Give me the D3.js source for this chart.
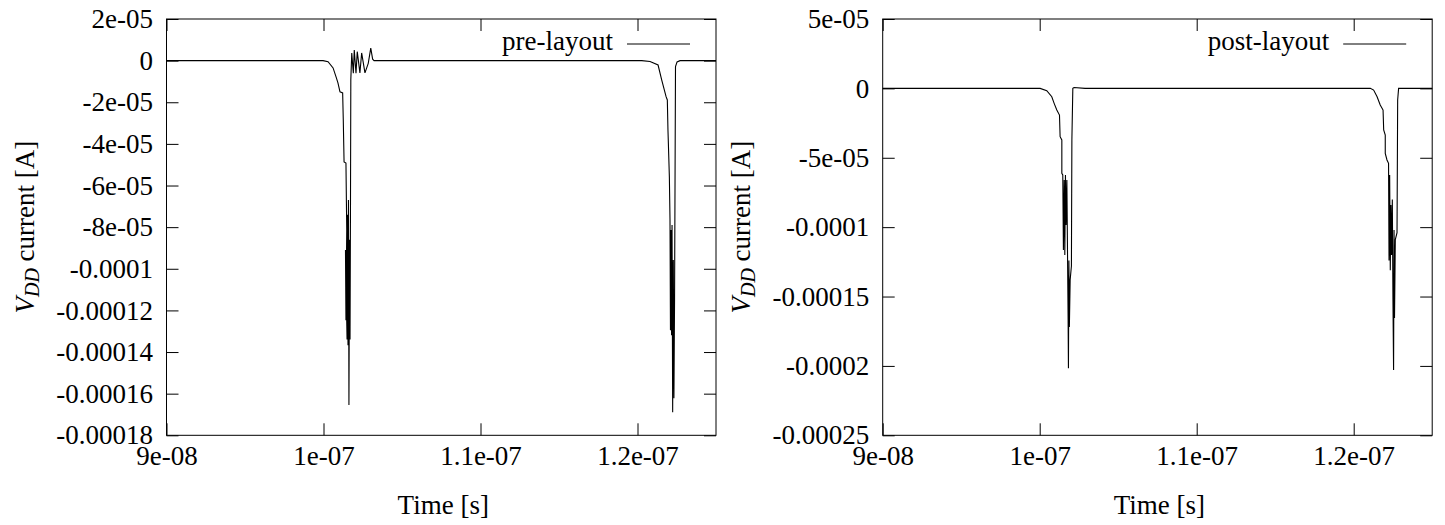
<!DOCTYPE html>
<html>
<head>
<meta charset="utf-8">
<script src="https://cdn.jsdelivr.net/npm/d3@7"></script>
<style>
  body { margin: 0; background: #fff; }
  text { font-family: "Liberation Serif", serif; font-size: 27px; fill: #000; }
</style>
</head>
<body>
<div id="container"></div>
<script>
/* DATA (time in ns, current in uA) */
const preTimeNs = [90, 99.97, 100.29, 100.61, 100.80, 100.92, 101.05, 101.22, 101.26, 101.31, 101.43, 101.48, 101.43,
  101.40, 101.50, 101.53, 101.56, 101.59, 101.62, 101.66, 101.69, 101.72, 101.74,
  101.80, 101.90, 101.96, 102.07, 102.15, 102.32, 102.43, 102.64, 102.85, 103.01, 103.13, 103.22,
  120.27, 120.80, 121.31, 121.54, 121.82, 121.90, 121.94, 121.96, 122.03, 122.07,
  122.10, 122.13, 122.17, 122.20, 122.24, 122.28, 122.32, 122.36, 122.42, 122.52, 122.71, 125];
const preCurrentUA = [0, 0, -0.5, -3.5, -7.8, -10.7, -15, -15.5, -28.5, -48.7, -49.2, -81.4, -124.7,
  -91, -134, -74, -136.7, -67, -165.5, -86, -134, -67, -9.3,
  3.6, -6.1, 5.1, -6.1, 4.3, -5.9, 3.7, -5.9, -1.3, 6.0, 0.7, 0,
  0, -0.4, -2.1, -9.3, -17.3, -18.9, -33.3, -38.1, -55.9, -76.6,
  -129.5, -81.4, -131.9, -79, -168.9, -95.8, -162.2, -115, -2.9, -0.6, 0, 0];

const postTimeNs = [90, 100.03, 100.45, 100.77, 100.92, 101.09, 101.26, 101.30, 101.41, 101.41, 101.47,
  101.51, 101.56, 101.60, 101.64, 101.68, 101.73, 101.77, 101.81, 101.83, 101.86, 101.89, 101.94,
  102.02, 102.05, 102.11, 102.19, 102.89,
  120.53, 121.06, 121.27, 121.49, 121.69, 121.87, 121.91, 122.01, 122.01, 122.12, 122.22,
  122.25, 122.29, 122.33, 122.37, 122.41, 122.46, 122.50, 122.54, 122.57, 122.60, 122.65,
  122.76, 122.80, 122.86, 125];
const postCurrentUA = [0, 0, -1.6, -6, -10.8, -15.6, -19.2, -34.8, -37.2, -61.2, -62.4,
  -116.5, -66, -120, -62.4, -98.5, -66, -116.5, -167, -201.6, -124, -172, -138,
  -128, -37.2, 0, 0.6, 0,
  0, 0, -1.2, -6, -12, -15.6, -30, -33.6, -46.8, -51.6, -54,
  -124, -62.4, -131, -84, -120, -80, -152, -203, -102, -165.5, -109,
  -104, -8.4, 0, 0];

const xTicks = [9e-8, 1e-7, 1.1e-7, 1.2e-7];
const xTickLabels = ["9e-08", "1e-07", "1.1e-07", "1.2e-07"];

const preYTicks = [2e-5, 0, -2e-5, -4e-5, -6e-5, -8e-5, -1e-4, -1.2e-4, -1.4e-4, -1.6e-4, -1.8e-4];
const preYTickLabels = ["2e-05", "0", "-2e-05", "-4e-05", "-6e-05", "-8e-05", "-0.0001", "-0.00012", "-0.00014", "-0.00016", "-0.00018"];

const postYTicks = [5e-5, 0, -5e-5, -1e-4, -1.5e-4, -2e-4, -2.5e-4];
const postYTickLabels = ["5e-05", "0", "-5e-05", "-0.0001", "-0.00015", "-0.0002", "-0.00025"];

/* CONSTANTS */
const width = 1445, height = 525;
const plotW = 549.5, plotTop = 19, plotBottom = 435.3, tickLen = 12;
const serif = "Liberation Serif, serif";

const svg = d3.select("#container")
  .append("svg")
  .attr("width", width)
  .attr("height", height);

function drawPanel(left, times, currents, yTicks, yLabels, yDomain, legend) {
  const data = times.map((t, i) => ({ t: t * 1e-9, v: currents[i] * 1e-6 }));

  const xScale = d3.scaleLinear()
    .domain([9e-8, 1.25e-7])
    .range([left, left + plotW]);

  const yScale = d3.scaleLinear()
    .domain(yDomain)
    .range([plotBottom, plotTop]);

  const g = svg.append("g");

  // axes, ticks pointing inward
  const xAxis = d3.axisBottom(xScale).tickValues(xTicks)
    .tickFormat((d, i) => xTickLabels[i]).tickSize(-tickLen).tickPadding(11);
  const yAxis = d3.axisLeft(yScale).tickValues(yTicks)
    .tickFormat((d, i) => yLabels[i]).tickSize(-tickLen).tickPadding(13.5);

  g.append("g").attr("transform", `translate(0,${plotBottom})`).call(xAxis);
  g.append("g").attr("transform", `translate(0,${plotTop})`)
    .call(d3.axisTop(xScale).tickValues(xTicks).tickFormat("").tickSize(-tickLen));
  g.append("g").attr("transform", `translate(${left},0)`).call(yAxis);
  g.append("g").attr("transform", `translate(${left + plotW},0)`)
    .call(d3.axisRight(yScale).tickValues(yTicks).tickFormat("").tickSize(-tickLen));
  g.selectAll(".domain").remove();
  g.selectAll(".tick text").attr("font-family", serif).attr("font-size", 27);

  // LINE
  const line = d3.line()
    .x(d => xScale(d.t))
    .y(d => yScale(d.v));

  g.append("path")
    .datum(data)
    .attr("d", line)
    .attr("fill", "none")
    .attr("stroke", "black")
    .attr("stroke-width", 1.1);

  // frame
  g.append("rect")
    .attr("x", left).attr("y", plotTop)
    .attr("width", plotW).attr("height", plotBottom - plotTop)
    .attr("fill", "none").attr("stroke", "black");

  // legend
  g.append("text")
    .attr("x", left + plotW - 103).attr("y", 50)
    .attr("text-anchor", "end")
    .text(legend);
  g.append("line")
    .attr("x1", left + plotW - 89).attr("x2", left + plotW - 26)
    .attr("y1", 44).attr("y2", 44)
    .attr("stroke", "black");

  // axis titles
  g.append("text")
    .attr("x", left + plotW / 2 + 2).attr("y", 514)
    .attr("text-anchor", "middle")
    .text("Time [s]");

  const yl = g.append("text")
    .attr("transform", `translate(${left - 133},${(plotTop + plotBottom) / 2}) rotate(-90)`)
    .attr("text-anchor", "middle");
  yl.append("tspan").style("font-style", "italic").text("V");
  yl.append("tspan").style("font-style", "italic").style("font-size", "20px")
    .attr("dy", 5).text("DD");
  yl.append("tspan").attr("dy", -5).text(" current [A]");
}

drawPanel(166.5, preTimeNs, preCurrentUA, preYTicks, preYTickLabels, [-1.8e-4, 2e-5], "pre-layout");
drawPanel(882.7, postTimeNs, postCurrentUA, postYTicks, postYTickLabels, [-2.5e-4, 5e-5], "post-layout");
</script>
</body>
</html>
